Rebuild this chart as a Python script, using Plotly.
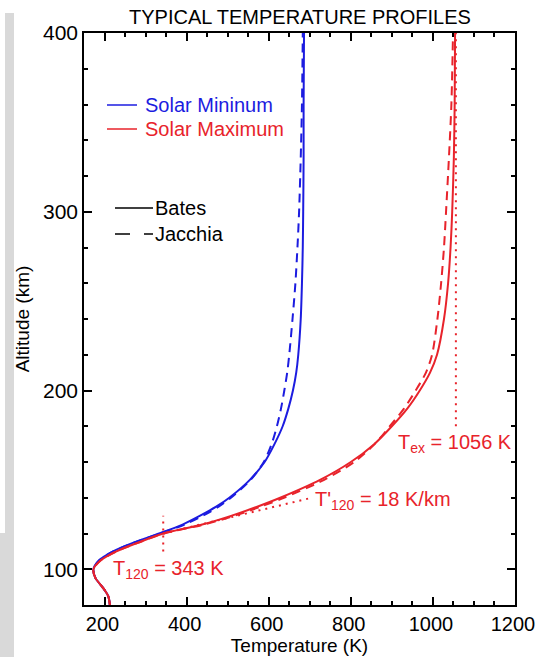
import plotly.graph_objects as go

# ---------------- data ----------------
ALT = [80, 85, 90, 95, 100, 105, 110, 115, 120, 125, 130, 135, 140, 150, 160,
       170, 180, 190, 200, 210, 220, 240, 260, 280, 300, 330, 360, 400]
BATES_MIN = [213, 209, 195, 178, 173, 187, 221, 272, 333, 390, 433, 472, 504, 554, 590,
             614, 634, 648, 659, 667, 672, 678, 681, 683, 684, 685, 685, 686]
JACCHIA_MIN = [213, 209, 195, 178, 173, 187, 221, 273, 335, 395, 440, 478, 508, 556, 588,
               607, 620, 630, 638, 645, 650, 658, 665, 670, 674, 678, 681, 683]
BATES_MAX = [213, 209, 195, 178, 173, 191, 229, 283, 343, 438, 510, 572, 628, 725, 800,
             857, 900, 938, 968, 993, 1010, 1027, 1037, 1043, 1047, 1051, 1053, 1054]
JACCHIA_MAX = [213, 209, 195, 178, 173, 191, 229, 284, 345, 442, 518, 580, 637, 735, 808,
               858, 895, 930, 958, 983, 998, 1011, 1020, 1027, 1032, 1039, 1045, 1049]

TEX_LINE_T = [1056, 1056]
TEX_LINE_Z = [180, 400]
T120_LINE_T = [343, 343]
T120_LINE_Z = [110, 130]
GRAD_LINE_T = [343, 705]
GRAD_LINE_Z = [120, 140]

X_RANGE = [150, 1200]
Y_RANGE = [80, 400]

BLUE = "#1c1ce0"
RED = "#e8232b"
FONT = "Liberation Sans, Arial, Helvetica, sans-serif"

W, H = 535, 657
PL, PR, PT, PB = 84, 515, 33, 605


def px(x):
    return (x - PL) / (PR - PL)


def py(y):
    return (PB - y) / (PB - PT)


fig = go.Figure()

curves = [
    (BATES_MIN, BLUE, "solid"),
    (JACCHIA_MIN, BLUE, "9px,6px"),
    (BATES_MAX, RED, "solid"),
    (JACCHIA_MAX, RED, "9px,6px"),
]
for temps, col, dash in curves:
    fig.add_trace(go.Scatter(x=temps, y=ALT, mode="lines",
                             line=dict(color=col, width=2, dash=dash, shape="spline", smoothing=0.8),
                             showlegend=False, hoverinfo="skip"))

for tx, tz in [(TEX_LINE_T, TEX_LINE_Z), (T120_LINE_T, T120_LINE_Z), (GRAD_LINE_T, GRAD_LINE_Z)]:
    fig.add_trace(go.Scatter(x=tx, y=tz, mode="lines",
                             line=dict(color=RED, width=2, dash="2px,5px"),
                             showlegend=False, hoverinfo="skip"))

shapes = []
# gray strip at the left edge
shapes.append(dict(type="rect", xref="paper", yref="paper", x0=px(5), x1=px(14), y0=py(13), y1=py(H),
                   fillcolor="#d9d9d9", line=dict(width=0), layer="below"))
shapes.append(dict(type="rect", xref="paper", yref="paper", x0=px(0), x1=px(5), y0=py(533), y1=py(H),
                   fillcolor="#d9d9d9", line=dict(width=0), layer="below"))
# legend lines
shapes.append(dict(type="line", xref="paper", yref="paper", x0=px(107), x1=px(137), y0=py(105), y1=py(105),
                   line=dict(color=BLUE, width=1.5)))
shapes.append(dict(type="line", xref="paper", yref="paper", x0=px(107), x1=px(137), y0=py(129), y1=py(129),
                   line=dict(color=RED, width=1.5)))
shapes.append(dict(type="line", xref="paper", yref="paper", x0=px(115), x1=px(153), y0=py(208), y1=py(208),
                   line=dict(color="black", width=1.5)))
shapes.append(dict(type="line", xref="paper", yref="paper", x0=px(115), x1=px(153), y0=py(234), y1=py(234),
                   line=dict(color="black", width=1.5, dash="15px,14px")))

annotations = [
    dict(text="TYPICAL TEMPERATURE PROFILES", x=px(300), y=py(17), font=dict(size=20, color="black")),
    dict(text="Solar Mininum", x=px(143), y=py(105), xanchor="left", font=dict(size=20, color=BLUE)),
    dict(text="Solar Maximum", x=px(143), y=py(129), xanchor="left", font=dict(size=20, color=RED)),
    dict(text="Bates", x=px(153), y=py(208), xanchor="left", font=dict(size=20, color="black")),
    dict(text="Jacchia", x=px(153), y=py(234), xanchor="left", font=dict(size=20, color="black")),
    dict(text="T<sub>120</sub> = 343 K", x=px(111), y=py(569), xanchor="left", font=dict(size=20, color=RED)),
    dict(text="T'<sub>120</sub> = 18 K/km", x=px(313), y=py(500), xanchor="left", font=dict(size=20, color=RED)),
    dict(text="T<sub>ex</sub> = 1056 K", x=px(396), y=py(443), xanchor="left", font=dict(size=20, color=RED)),
]
for a in annotations:
    a.update(xref="paper", yref="paper", showarrow=False, yanchor=a.get("yanchor", "middle"),
             xanchor=a.get("xanchor", "center"))

axis_common = dict(showline=True, linecolor="black", linewidth=1.5, mirror="ticks", ticks="inside",
                   tickcolor="black", tickwidth=1.5, ticklen=8, showgrid=False, zeroline=False,
                   automargin=False, ticklabeloverflow="allow")

fig.update_layout(
    width=W, height=H,
    margin=dict(l=PL, r=W - PR, t=PT, b=H - PB),
    paper_bgcolor="white", plot_bgcolor="white",
    font=dict(family=FONT, color="black"),
    shapes=shapes, annotations=annotations,
    xaxis=dict(range=X_RANGE, tick0=0, dtick=200, ticklabelshift=-2,
               tickfont=dict(size=20, color="black"),
               minor=dict(dtick=50, ticks="inside", ticklen=4, tickcolor="black", tickwidth=1.5),
               title=dict(text="Temperature (K)", font=dict(size=19), standoff=3),
               **axis_common),
    yaxis=dict(range=Y_RANGE, tick0=0, dtick=100,
               tickfont=dict(size=21, color="black"),
               minor=dict(dtick=20, ticks="inside", ticklen=4, tickcolor="black", tickwidth=1.5),
               title=dict(text="Altitude (km)", font=dict(size=19), standoff=8),
               **axis_common),
)

fig.write_html("out.html")
